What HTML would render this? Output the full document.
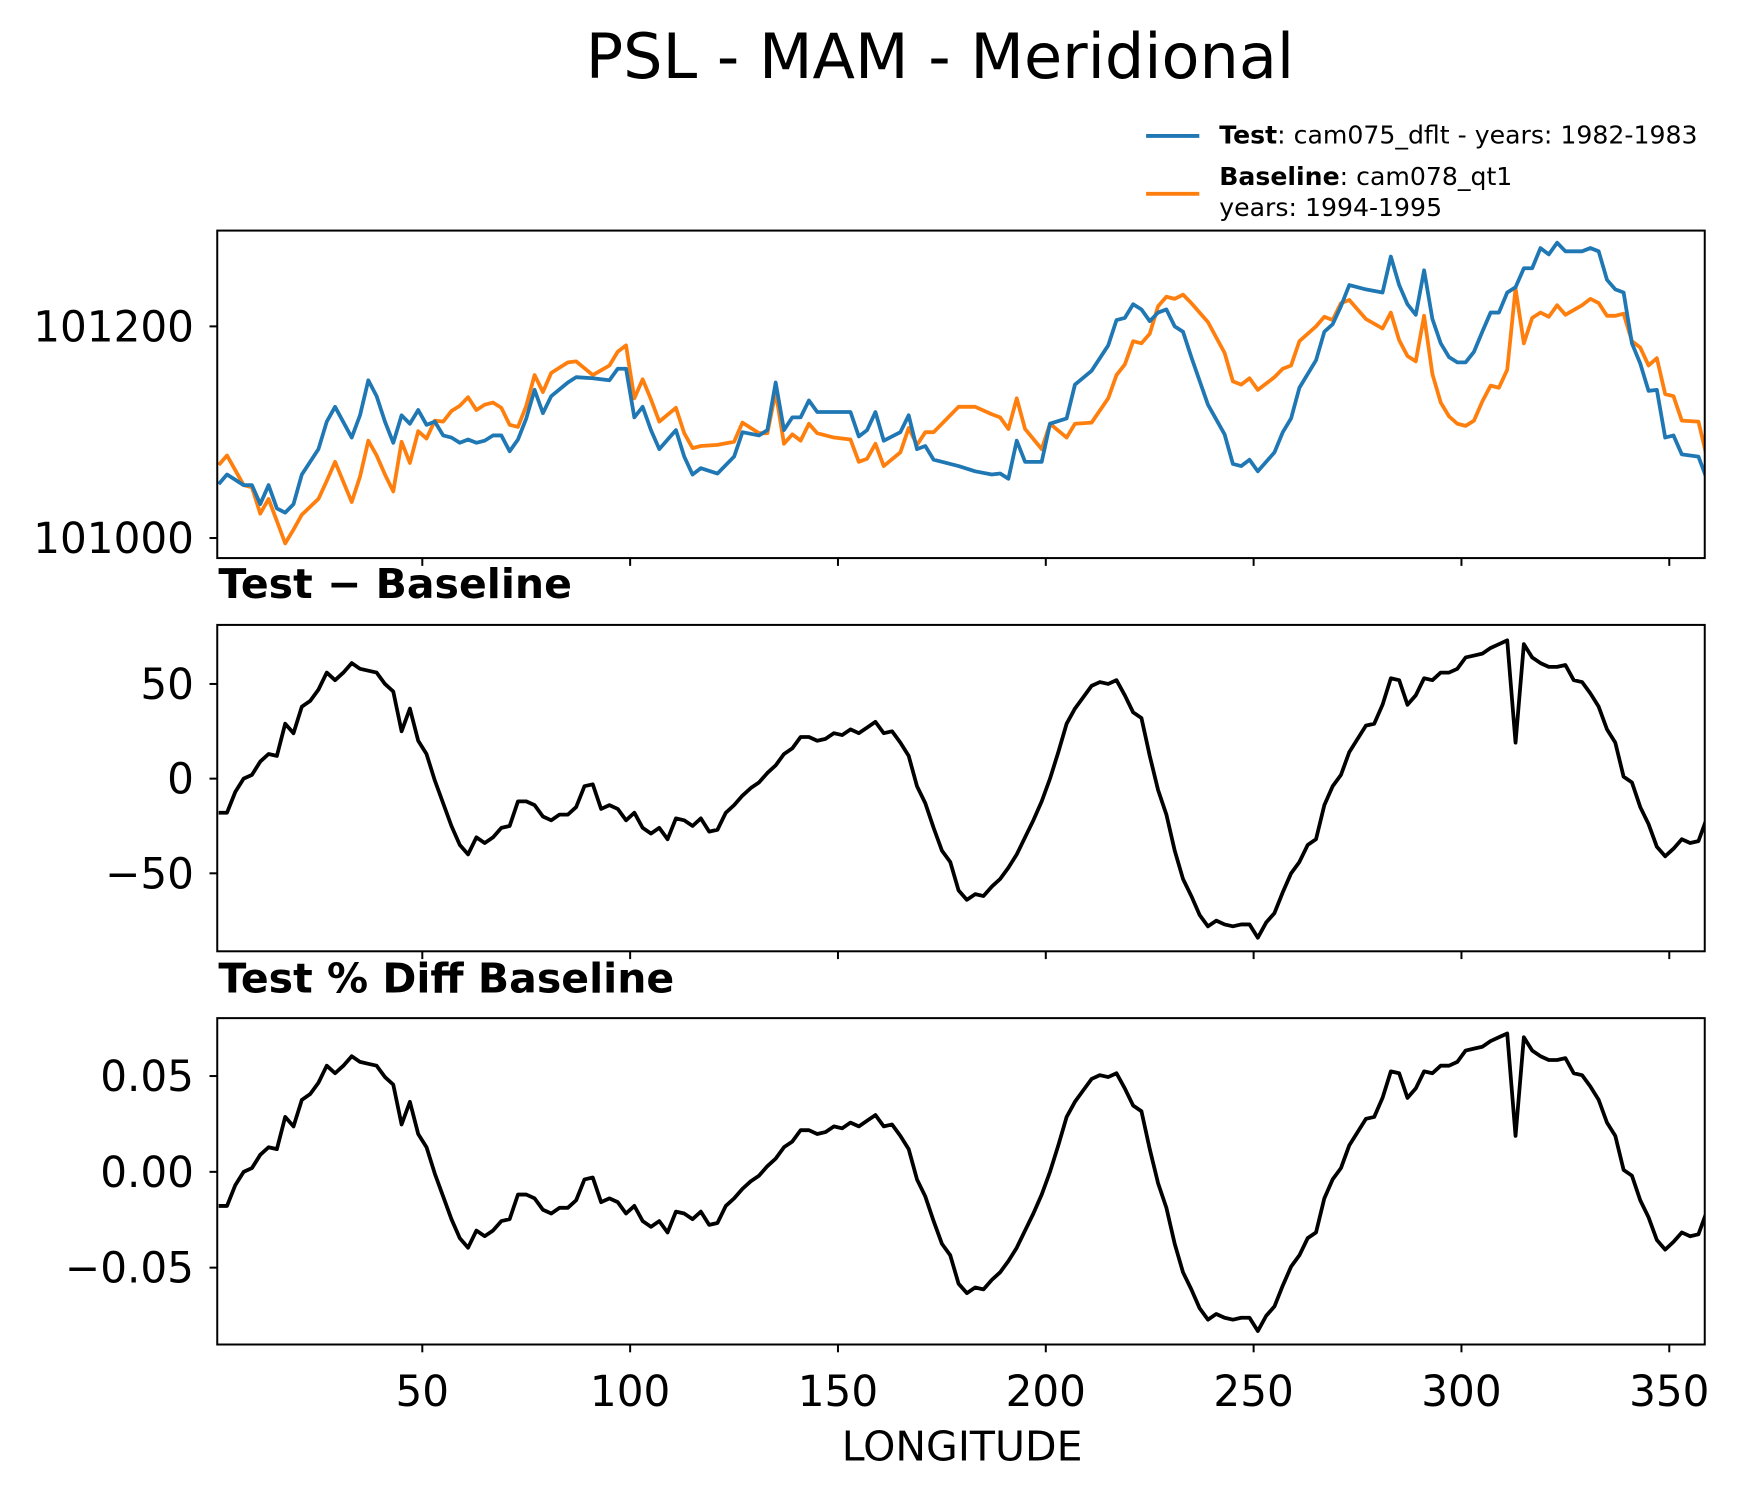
<!DOCTYPE html>
<html><head><meta charset="utf-8"><title>PSL - MAM - Meridional</title>
<style>html,body{margin:0;padding:0;background:#fff}svg{display:block}text{font-family:"DejaVu Sans","Liberation Sans",sans-serif}</style>
</head><body>
<svg id="chart" width="1738" height="1496" viewBox="0 0 1568 1343" preserveAspectRatio="none" xmlns="http://www.w3.org/2000/svg">
<rect width="1568" height="1343" fill="#fff"/>
<text x="848" y="70" font-size="56" text-anchor="middle">PSL - MAM - Meridional</text>
<g>
<line x1="1034" y1="122" x2="1082" y2="122" stroke="#1f77b4" stroke-width="3.5"/>
<text x="1100" y="129" font-size="22.7"><tspan font-weight="bold">Test</tspan>: cam075_dflt - years: 1982-1983</text>
<line x1="1034" y1="174" x2="1082" y2="174" stroke="#ff7f0e" stroke-width="3.5"/>
<text x="1100" y="166" font-size="22.7"><tspan font-weight="bold">Baseline</tspan>: cam078_qt1</text>
<text x="1100" y="194" font-size="22.7">years: 1994-1995</text>
</g>
<text x="197" y="537" font-size="37" font-weight="bold">Test − Baseline</text>
<text x="197" y="891" font-size="37" font-weight="bold">Test % Diff Baseline</text>
<text x="868" y="1311" font-size="37" text-anchor="middle">LONGITUDE</text>
</svg>
<script>
const lonTS=[1,3,7,9,11,13,15,17,19,21,25,27,29,33,35,37,39,41,43,45,47,49,51,53,55,57,59,61,63,65,67,69,71,73,75,77,79,81,85,87,91,95,97,99,101,103,105,107,111,113,115,117,121,125,127,131,133,135,137,139,141,143,145,149,153,155,157,159,161,165,167,169,171,173,179,183,187,189,191,193,195,199,201,205,207,211,215,217,219,221,223,225,227,229,231,233,235,239,243,245,247,249,251,255,257,259,261,265,267,269,271,273,277,281,283,285,287,289,291,293,295,297,299,301,303,305,307,309,311,313,315,317,319,321,323,325,329,331,333,335,337,339,341,343,345,347,349,351,353,357,359];
const testVals=[101051,101060,101050,101050,101032,101050,101028,101024,101032,101060,101084,101110,101124,101095,101116,101149,101134,101110,101090,101116,101108,101121,101107,101110,101097,101095,101090,101093,101090,101092,101097,101097,101082,101093,101113,101140,101118,101134,101147,101152,101151,101149,101160,101160,101114,101124,101102,101084,101102,101077,101060,101066,101061,101077,101100,101097,101102,101147,101102,101114,101114,101130,101119,101119,101119,101096,101102,101119,101092,101100,101116,101084,101087,101074,101068,101063,101060,101061,101056,101092,101072,101072,101108,101113,101145,101158,101182,101206,101208,101221,101216,101205,101213,101216,101200,101195,101171,101126,101098,101070,101068,101074,101063,101081,101100,101113,101142,101168,101195,101202,101219,101239,101235,101232,101266,101239,101221,101211,101253,101207,101184,101171,101166,101166,101176,101195,101213,101213,101232,101237,101255,101255,101274,101268,101279,101271,101271,101274,101271,101244,101235,101232,101184,101165,101139,101140,101095,101097,101079,101077,101056];
const baseVals=[101069,101078,101050,101048,101023,101037,101016,100995,101008,101022,101037,101054,101072,101034,101058,101092,101078,101060,101044,101091,101071,101101,101094,101111,101110,101120,101125,101133,101121,101126,101128,101123,101107,101105,101125,101154,101138,101156,101166,101167,101154,101163,101176,101182,101132,101150,101131,101110,101123,101099,101085,101087,101088,101091,101109,101099,101099,101138,101089,101098,101092,101108,101099,101095,101093,101072,101075,101089,101068,101081,101104,101088,101100,101100,101124,101124,101117,101114,101103,101132,101103,101084,101108,101095,101108,101109,101132,101154,101164,101186,101184,101193,101219,101228,101226,101230,101222,101204,101175,101148,101145,101151,101140,101152,101160,101163,101186,101200,101209,101206,101222,101225,101207,101198,101213,101187,101172,101167,101210,101155,101128,101115,101108,101106,101111,101129,101144,101142,101159,101236,101184,101208,101213,101209,101220,101211,101220,101226,101222,101210,101210,101212,101186,101180,101163,101170,101136,101134,101111,101110,101077];
const lonD=[];for(let l=1;l<=359;l+=2)lonD.push(l);
const diffVals=[-18,-18,-7,0,2,9,13,12,29,24,38,41,47,56,52,56,61,58,57,56,50,46,25,37,20,13,-1,-13,-25,-35,-40,-31,-34,-31,-26,-25,-12,-12,-14,-20,-22,-19,-19,-15,-4,-3,-16,-14,-16,-22,-18,-26,-29,-26,-32,-21,-22,-25,-21,-28,-27,-18,-14,-9,-5,-2,3,7,13,16,22,22,20,21,24,23,26,24,27,30,24,25,19,12,-4,-13,-26,-38,-44,-59,-64,-61,-62,-57,-53,-47,-40,-31,-22,-12,0,14,29,37,43,49,51,50,52,44,35,32,12,-6,-19,-38,-53,-62,-72,-78,-75,-77,-78,-77,-77,-84,-76,-71,-60,-50,-44,-35,-32,-14,-4,2,14,21,28,29,39,53,52,39,44,53,52,56,56,58,64,65,66,69,71,73,19,71,64,61,59,59,60,52,51,45,38,26,19,1,-2,-15,-24,-36,-41,-37,-32,-34,-33,-21];
const pctVals=diffVals.map(d=>d/101100*100);
const xTicks=[50,100,150,200,250,300,350];
const p1Ticks=[101000,101200];
const p2Ticks=[-50,0,50];
const p3Ticks=[-0.05,0,0.05];
const p3Labels=["−0.05","0.00","0.05"];

const NS="http://www.w3.org/2000/svg";
const svg=document.getElementById('chart');
const X0=196,X1=1538;
const xs=l=>193.5+3.75*l;
function mk(tag,attrs,parent){const e=document.createElementNS(NS,tag);for(const k in attrs)e.setAttribute(k,attrs[k]);(parent||svg).appendChild(e);return e;}
const panels=[
 {name:'mean-panel',top:207,bot:501,y:v=>293+(101200-v)*190/200,ticks:p1Ticks,labels:p1Ticks.map(String),xlab:false},
 {name:'diff-panel',top:561,bot:854,y:v=>699-v*85/50,ticks:p2Ticks,labels:["−50","0","50"],xlab:false},
 {name:'pctdiff-panel',top:914,bot:1207,y:v=>1052-v*86/0.05,ticks:p3Ticks,labels:p3Labels,xlab:true}
];
function path(lons,vals,yf){return lons.map((l,i)=>(i?'L':'M')+xs(l).toFixed(1)+' '+yf(vals[i]).toFixed(1)).join(' ');}
panels.forEach((p,pi)=>{
 const g=mk('g',{});
 
 
 const cid='clip'+pi;
 const cp=mk('clipPath',{id:cid},g);mk('rect',{x:X0,y:p.top,width:X1-X0,height:p.bot-p.top},cp);
 const lg=mk('g',{'clip-path':'url(#'+cid+')'},g);
 if(pi===0){
  const b=mk('path',{d:path(lonTS,baseVals,p.y),fill:'none',stroke:'#ff7f0e','stroke-width':3.4,'stroke-linejoin':'round'},lg);
  
  
  const t=mk('path',{d:path(lonTS,testVals,p.y),fill:'none',stroke:'#1f77b4','stroke-width':3.4,'stroke-linejoin':'round'},lg);
  
  
 }else{
  const vals=pi===1?diffVals:pctVals;
  const d=mk('path',{d:path(lonD,vals,p.y),fill:'none',stroke:'#000','stroke-width':3.4,'stroke-linejoin':'round'},lg);
  
  
 }
 mk('rect',{x:X0,y:p.top,width:X1-X0,height:p.bot-p.top,fill:'none',stroke:'#000','stroke-width':1.8},g);
 p.ticks.forEach((v,i)=>{
  const y=p.y(v);
  mk('line',{x1:X0-7,x2:X0,y1:y,y2:y,stroke:'#000','stroke-width':1.8},g);
  const t=mk('text',{x:X0-21,y:y+13.5,'font-size':38,'text-anchor':'end'},g);
  
  
  t.textContent=p.labels[i];
 });
 xTicks.forEach(v=>{
  const x=xs(v);
  mk('line',{x1:x,x2:x,y1:p.bot,y2:p.bot+7,stroke:'#000','stroke-width':1.8},g);
  if(p.xlab){
   const t=mk('text',{x:x,y:1262,'font-size':38,'text-anchor':'middle'},g);
   
   
   t.textContent=String(v);
  }
 });
});
</script>
</body></html>
